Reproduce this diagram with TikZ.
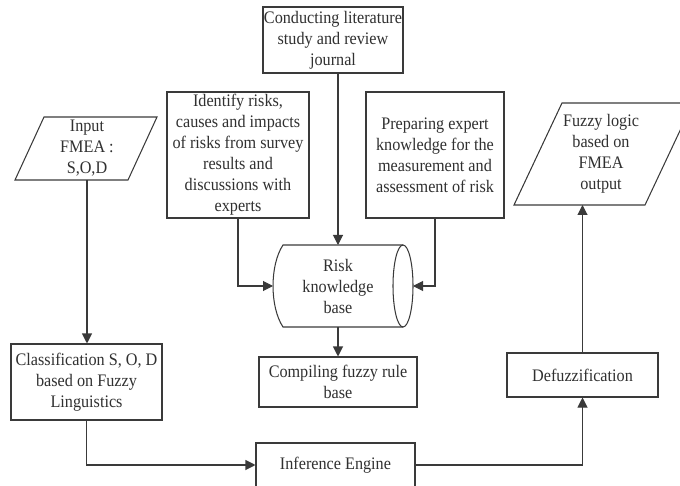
\documentclass[tikz,border=0pt]{standalone}
\usepackage{fontspec}
\setmainfont{Liberation Serif}[FakeStretch=0.92]
\usetikzlibrary{arrows.meta,calc}
\definecolor{ln}{HTML}{3A3A3A}
\definecolor{tx}{HTML}{303030}
\begin{document}
\begin{tikzpicture}[x=1pt,y=-1pt,
  every node/.style={text=tx,font=\fontsize{17.6}{21}\selectfont,align=center,inner sep=0pt},
  box/.style={draw=ln,line width=1.05pt,fill=white},
  shp/.style={draw=ln,line width=1.05pt},
  arr/.style={draw=ln,line width=1.05pt,-{Triangle[length=10pt,width=10pt]}}]
\useasboundingbox (0,0) rectangle (680,486);

% rectangular boxes
\node[box,minimum width=140pt,minimum height=66pt] (conduct) at (333,40)
  {Conducting literature\\study and review\\journal};
\node[box,minimum width=142pt,minimum height=126pt] (identify) at (238,155)
  {Identify risks,\\causes and impacts\\of risks from survey\\results and\\discussions with\\experts};
\node[box,minimum width=138pt,minimum height=126pt] (prepare) at (435,155)
  {Preparing expert\\knowledge for the\\measurement and\\assessment of risk};
\node[box,minimum width=151pt,minimum height=76pt] (classif) at (86.5,382)
  {Classification S, O, D\\based on Fuzzy\\Linguistics};
\node[box,minimum width=158pt,minimum height=50pt] (compile) at (338,382)
  {Compiling fuzzy rule\\base};
\node[box,minimum width=159pt,minimum height=44pt] (infer) at (335.5,465)
  {Inference Engine};
\node[box,minimum width=151pt,minimum height=44pt] (defuzz) at (582.5,375)
  {Defuzzification};

% input parallelogram
\draw[shp] (15,180) -- (128,180) -- (157,117) -- (44,117) -- cycle;
\coordinate (inB) at (87,180);
\node (input) at (87,148) {Input\\FMEA :\\S,O,D};

% output parallelogram
\draw[shp] (514,205) -- (645,205) -- (693,103) -- (562,103) -- cycle;
\coordinate (outB) at (582.5,205);
\node (output) at (601,154) {Fuzzy logic\\based on\\FMEA\\output};

% risk knowledge base (horizontal drum)
\draw[shp] (403,245) -- (283,245) .. controls (269.7,265) and (269.7,307) .. (283,327) -- (403,327);
\draw[shp] (403,286) ellipse [x radius=10, y radius=41];
\coordinate (riskL) at (273,286);
\coordinate (riskR) at (413,286);
\coordinate (riskT) at (338,245);
\coordinate (riskB) at (338,327);
\node (risk) at (338,286) {Risk\\knowledge\\base};

% connectors
\draw[arr] (riskT |- conduct.south) -- (riskT);
\draw[arr] (identify.south) |- (riskL);
\draw[arr] (prepare.south) |- (riskR);
\draw[arr] (riskB) -- (riskB |- compile.north);
\draw[arr] (inB) -- (inB |- classif.north);
\draw[arr] (classif.south) |- (infer.west);
\draw[arr] (infer.east) -| (defuzz.south);
\draw[arr] (defuzz.north) -- (outB);
\end{tikzpicture}
\end{document}
